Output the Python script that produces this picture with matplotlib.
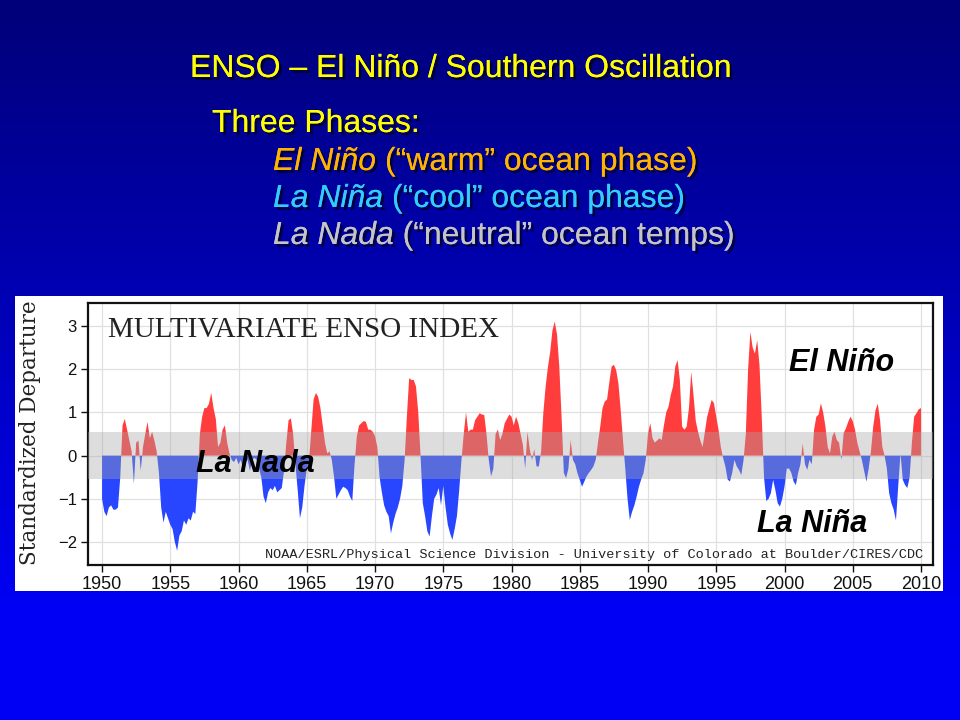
import numpy as np
import matplotlib.pyplot as plt
import matplotlib.patheffects as pe
from matplotlib.patches import Rectangle

# MEI values, 6 per year (bimonthly), starting Jan 1950
mei_1950s = [
    -1.0, -1.3, -1.4, -1.2, -1.15, -1.25,
    -1.25, -1.2, -0.5, 0.7, 0.85, 0.6,
    0.35, 0.1, -0.65, 0.3, 0.35, -0.35,
    0.2, 0.5, 0.78, 0.4, 0.55, 0.35,
    0.1, -0.4, -1.2, -1.55, -1.3, -1.45,
    -1.6, -1.7, -2.0, -2.2, -1.85, -1.75,
    -1.5, -1.6, -1.45, -1.5, -1.3, -1.35,
    -0.6, 0.5, 0.9, 1.1, 1.1, 1.2,
    1.45, 1.1, 0.85, 0.2, 0.3, 0.6,
    0.7, 0.3, 0.05, -0.1, -0.15, -0.05,
]
mei_1960s = [
    -0.2, -0.1, -0.3, -0.15, -0.1, -0.35,
    -0.1, -0.05, -0.1, -0.3, -0.5, -0.95,
    -1.1, -0.85, -0.75, -0.8, -0.7, -0.85,
    -0.8, -0.75, -0.35, 0.3, 0.82, 0.86,
    0.5, -0.2, -0.8, -1.45, -1.2, -0.7,
    -0.3, -0.1, 0.6, 1.3, 1.45, 1.36,
    1.1, 0.7, 0.3, 0.05, 0.1, -0.1,
    -0.5, -1.0, -0.9, -0.8, -0.72, -0.75,
    -0.8, -0.95, -1.05, -0.2, 0.45, 0.7,
    0.75, 0.8, 0.78, 0.6, 0.6, 0.55,
]
mei_1970s = [
    0.45, 0.2, -0.5, -0.85, -1.15, -1.3,
    -1.4, -1.8, -1.55, -1.35, -1.2, -1.0,
    -0.7, -0.1, 0.9, 1.79, 1.75, 1.75,
    1.6, 1.0, 0.0, -1.1, -1.4, -1.75,
    -1.87, -1.4, -1.0, -0.9, -0.75, -1.15,
    -0.7, -1.2, -1.6, -1.8, -1.95, -1.7,
    -1.4, -0.8, -0.1, 0.5, 1.0, 0.55,
    0.6, 0.6, 0.82, 0.9, 0.98, 0.95,
    0.94, 0.5, -0.1, -0.48, -0.3, 0.5,
    0.6, 0.36, 0.5, 0.75, 0.85, 0.95,
]
mei_1980s = [
    0.9, 0.7, 0.9, 0.75, 0.5, 0.25,
    -0.3, 0.55, 0.15, -0.1, 0.15, -0.25,
    -0.25, 0.1, 1.0, 1.6, 2.05, 2.4,
    2.9, 3.1, 2.8, 2.06, 0.9, -0.4,
    -0.52, -0.3, 0.36, -0.1, -0.2, -0.41,
    -0.56, -0.72, -0.6, -0.48, -0.4, -0.33,
    -0.25, -0.1, 0.3, 0.67, 1.1, 1.25,
    1.3, 1.7, 2.06, 2.1, 1.98, 1.67,
    1.05, 0.36, -0.3, -1.0, -1.49, -1.3,
    -1.15, -0.95, -0.72, -0.55, -0.41, -0.1,
]
mei_1990s = [
    0.5, 0.75, 0.4, 0.3, 0.35, 0.4,
    0.36, 0.7, 1.0, 1.13, 1.4, 1.6,
    2.06, 2.21, 1.75, 0.67, 0.6, 0.67,
    1.1, 1.94, 1.4, 0.8, 0.55, 0.35,
    0.2, 0.55, 0.9, 1.1, 1.29, 1.21,
    0.9, 0.6, 0.2, -0.05, -0.25, -0.55,
    -0.6, -0.4, -0.1, -0.25, -0.33, -0.45,
    -0.1, 0.5, 2.0, 2.86, 2.5, 2.36,
    2.67, 2.1, 0.9, -0.5, -1.05, -1.0,
    -0.87, -0.56, -0.8, -1.1, -1.18, -1.0,
]
mei_2000s = [
    -0.72, -0.3, -0.3, -0.4, -0.6, -0.68,
    -0.4, -0.2, 0.28, -0.2, -0.33, -0.1,
    -0.2, 0.6, 0.9, 0.95, 1.21, 1.0,
    0.67, 0.2, 0.05, 0.44, 0.55, 0.36,
    0.3, -0.1, 0.52, 0.63, 0.78, 0.9,
    0.8, 0.6, 0.3, 0.1, -0.1, -0.35,
    -0.6, -0.3, 0.1, 0.67, 1.05, 1.2,
    0.82, 0.2, 0.0, -0.3, -0.87, -1.1,
    -1.25, -1.5, -0.7, 0.05, -0.56, -0.68,
    -0.75, -0.5, 0.3, 0.9, 0.98, 1.07,
    1.1,
]

x_ticks = list(range(1950, 2011, 5))
y_ticks = [-2, -1, 0, 1, 2, 3]

mei = np.array(mei_1950s + mei_1960s + mei_1970s + mei_1980s + mei_1990s + mei_2000s)
years = 1950 + np.arange(len(mei)) / 6

RED = "#ff3d3d"
BLUE = "#2846ff"

fig = plt.figure(figsize=(9.6, 7.2), dpi=100)

# slide background, pixel coordinates
bg = fig.add_axes([0, 0, 1, 1])
bg.set_xlim(0, 960)
bg.set_ylim(720, 0)
bg.axis("off")
top = np.array([0, 0, 120]) / 255
bottom = np.array([0, 0, 245]) / 255
rows = np.arange(720)
t = np.clip(rows / 610, 0, 1)[:, None, None]
grad = top * (1 - t) + bottom * t
grad = np.repeat(grad, 2, axis=1)
bg.imshow(grad, extent=[0, 960, 720, 0], aspect="auto", zorder=0)
bg.add_patch(Rectangle((15, 296), 928, 295, facecolor="white", edgecolor="none", zorder=1))

shadow = [pe.withSimplePatchShadow(offset=(2, -2), shadow_rgbFace="black", alpha=0.6), pe.Normal()]
slide_font = "Liberation Sans"
fs = 23

bg.text(190, 77, "ENSO – El Niño / Southern Oscillation", color="#ffff00",
        fontsize=fs, family=slide_font, va="baseline", path_effects=shadow, zorder=2)
bg.text(212, 132, "Three Phases:", color="#ffff00",
        fontsize=fs, family=slide_font, va="baseline", path_effects=shadow, zorder=2)

phases = [
    (170, "El Niño", " (“warm” ocean phase)", "#ffb400"),
    (207, "La Niña", " (“cool” ocean phase)", "#33ccff"),
    (244, "La Nada", " (“neutral” ocean temps)", "#c4c4c4"),
]
for y, name, rest, col in phases:
    t1 = bg.text(273, y, name, color=col, fontsize=fs, family=slide_font, style="italic",
                 va="baseline", path_effects=shadow, zorder=2)
    bg.annotate(rest, xy=(1, 0), xycoords=t1, va="bottom", ha="left", color=col,
                fontsize=fs, family=slide_font, path_effects=shadow, zorder=2)

# the MEI chart
ax = fig.add_axes([88 / 960, 1 - 565 / 720, 845 / 960, 262 / 720])
ax.set_xlim(1948.97, 2010.88)
ax.set_ylim(-2.53, 3.53)
ax.fill_between(years, mei, 0, where=mei >= 0, interpolate=True, color=RED, lw=0, zorder=2)
ax.fill_between(years, mei, 0, where=mei <= 0, interpolate=True, color=BLUE, lw=0, zorder=2)
ax.axhspan(-0.55, 0.55, color="#a8a8a8", alpha=0.38, lw=0, zorder=3)

ax.set_xticks(x_ticks)
ax.set_yticks(y_ticks)
ax.grid(True, color="#e0e0e0", lw=0.9, zorder=0)
ax.set_axisbelow(True)
for s in ax.spines.values():
    s.set_linewidth(1.6)
    s.set_color("#111111")
ax.tick_params(direction="out", length=5, width=1, pad=3, colors="#111111")
for lab in ax.get_xticklabels():
    lab.set_fontsize(13)
    lab.set_family("Liberation Sans")
for lab in ax.get_yticklabels():
    lab.set_fontsize(12)
    lab.set_family("Liberation Sans")

ax.text(0.024, 0.897, "MULTIVARIATE ENSO INDEX", transform=ax.transAxes, fontsize=21,
        family="Liberation Serif", va="center", ha="left", color="#222222", zorder=5)
ax.text(0.988, 0.038, "NOAA/ESRL/Physical Science Division - University of Colorado at Boulder/CIRES/CDC",
        transform=ax.transAxes, fontsize=9.7, family="Liberation Mono", va="center", ha="right",
        color="#222222", zorder=5)

fig.text(30 / 960, 1 - 433 / 720, "Standardized Departure", rotation=90, ha="center", va="center",
         fontsize=15.5, family="DejaVu Serif", color="#222222")

# phase labels laid over the chart
lab_kw = dict(fontsize=22, family="Liberation Sans", weight="bold", style="italic",
              color="black", va="baseline", ha="left", zorder=10)
fig.text(789 / 960, 1 - 371 / 720, "El Niño", **lab_kw)
fig.text(196 / 960, 1 - 472 / 720, "La Nada", **lab_kw)
fig.text(757 / 960, 1 - 532 / 720, "La Niña", **lab_kw)

fig.savefig("out.png", dpi=100)
